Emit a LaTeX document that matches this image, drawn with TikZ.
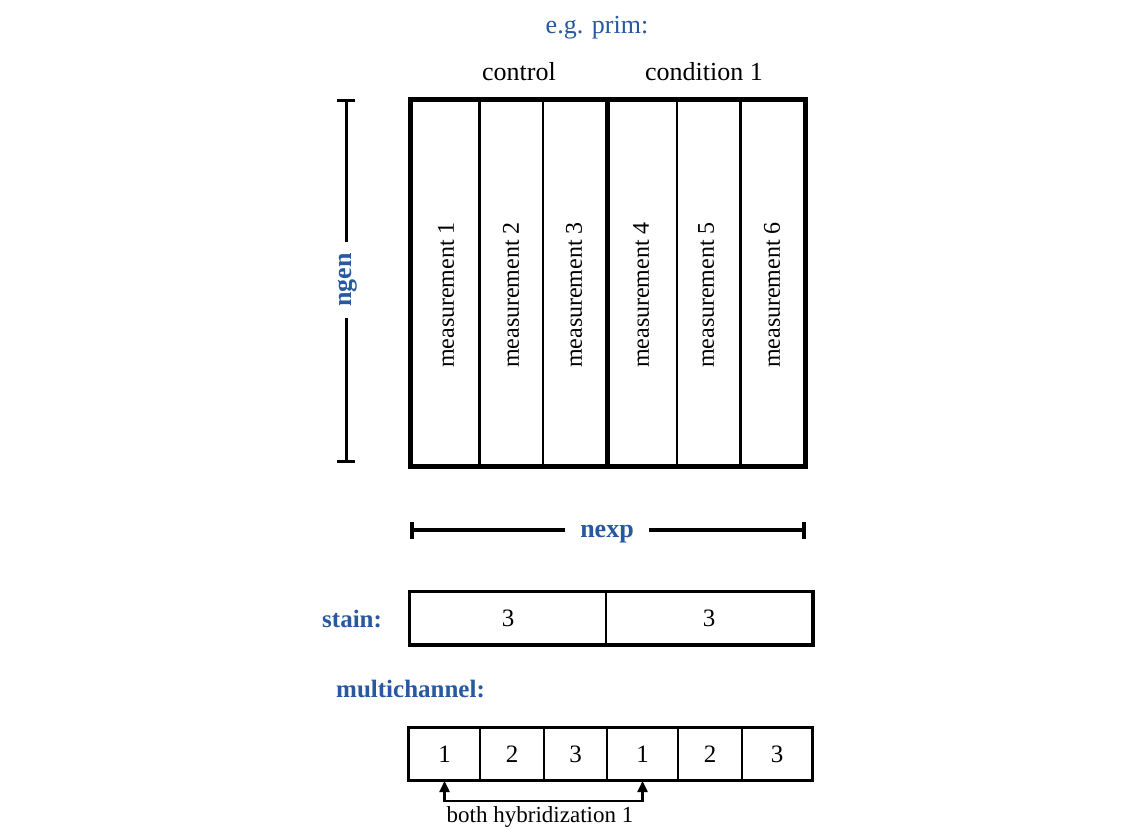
\documentclass[tikz,border=0pt]{standalone}
\usepackage{fontspec}
\setmainfont{Liberation Serif}
\usetikzlibrary{arrows.meta}
\definecolor{lblblue}{RGB}{40,88,160}
\begin{document}
\begin{tikzpicture}[x=1pt,y=-1pt,
  lbl/.style={text=lblblue,font=\fontsize{25}{30}\selectfont\bfseries,inner sep=0pt},
  toplbl/.style={font=\fontsize{26}{30}\selectfont,inner sep=0pt},
  meas/.style={font=\fontsize{24}{28}\selectfont,rotate=90,inner sep=0pt},
  cell/.style={draw,line width=2pt,minimum height=52pt,inner sep=0pt,font=\fontsize{25}{30}\selectfont},
  dimbar/.style={line width=3pt},
  hyb/.style={line width=2.4pt,{Triangle[length=11pt,width=10pt]}-{Triangle[length=11pt,width=10pt]}}]
\useasboundingbox[fill=white] (0,0) rectangle (1140,828);

% top labels
\node[toplbl,text=lblblue] (eg) at (597,28) {e.g. prim:};
\node[toplbl] (ctrl) at (519,72) {control};
\node[toplbl] (cond) at (704,72) {condition 1};

% main matrix
\draw[line width=3pt] (479,99) -- (479,466);
\draw[line width=2pt] (543,99) -- (543,466);
\draw[line width=5pt] (607,99) -- (607,466);
\draw[line width=2pt] (677,99) -- (677,466);
\draw[line width=3pt] (740,99) -- (740,466);
\draw[line width=5pt] (410,99) rectangle (805,466);

\node[meas] (m1) at (446,295) {measurement 1};
\node[meas] (m2) at (511,295) {measurement 2};
\node[meas] (m3) at (574,295) {measurement 3};
\node[meas] (m4) at (641,295) {measurement 4};
\node[meas] (m5) at (706,295) {measurement 5};
\node[meas] (m6) at (772,295) {measurement 6};

% ngen
\node[lbl,rotate=90,inner sep=11pt,font=\fontsize{26}{30}\selectfont\bfseries] (ngen) at (348,280) {ngen};
\coordinate (ngT) at (346,99);
\coordinate (ngB) at (346,463);
\draw[dimbar,{Bar[width=18pt]}-] (ngT) -- (ngT |- ngen.east);
\draw[dimbar,-{Bar[width=18pt]}] (ngB |- ngen.west) -- (ngB);

% nexp
\node[lbl,inner sep=15pt,font=\fontsize{26}{30}\selectfont\bfseries] (nexp) at (607,534) {nexp};
\coordinate (nxL) at (410,530);
\coordinate (nxR) at (806,530);
\draw[line width=4pt,{Bar[width=17pt]}-] (nxL) -- (nxL -| nexp.west);
\draw[line width=4pt,-{Bar[width=17pt]}] (nxR -| nexp.east) -- (nxR);

% stain
\node[lbl,anchor=west] (stain) at (322,619) {stain:};
\node[cell,minimum width=196pt] (s1) at (508,618) {3};
\node[cell,minimum width=206pt] (s2) at (709,618) {3};
\draw[line width=3pt] (s1.north west) rectangle (s2.south east);

% multichannel
\node[lbl,anchor=west] (mc) at (336,689) {multichannel:};
\node[cell,minimum width=71pt] (c1) at (444.5,754) {1};
\node[cell,minimum width=64pt] (c2) at (512,754) {2};
\node[cell,minimum width=63pt] (c3) at (575.5,754) {3};
\node[cell,minimum width=71pt] (c4) at (642.5,754) {1};
\node[cell,minimum width=64pt] (c5) at (710,754) {2};
\node[cell,minimum width=70pt] (c6) at (777,754) {3};
\draw[line width=2.6pt] (c1.north west) rectangle (c6.south east);

% both hybridization
\coordinate (hb) at (543,801);
\draw[hyb] (c1.south) -- (c1.south |- hb) -- (c4.south |- hb) -- (c4.south);
\node[font=\fontsize{23}{28}\selectfont,inner sep=0pt] (hyb) at (540,817) {both hybridization 1};
\end{tikzpicture}
\end{document}
